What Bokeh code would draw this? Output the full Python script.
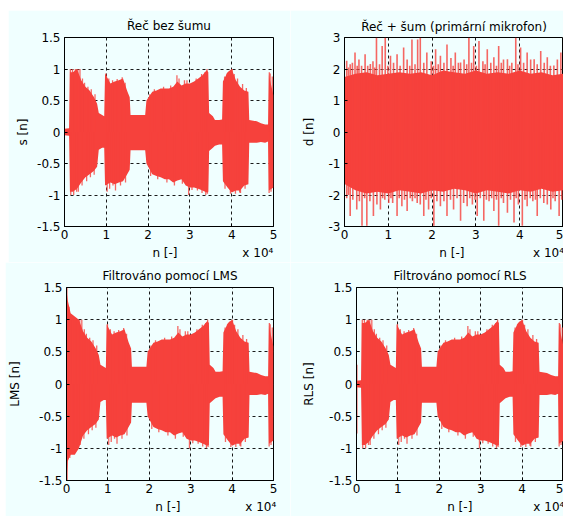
from bokeh.plotting import figure
from bokeh.models import Range1d, FixedTicker, Spacer
from bokeh.layouts import row, column
from bokeh.embed import file_html
from bokeh.resources import INLINE

# ---------------- data ----------------
x_ticks = [0, 10000, 20000, 30000, 40000, 50000]
x_tick_labels = ["0", "1", "2", "3", "4", "5"]

# clean speech s[n] : envelope points (sample index, upper, lower)
s_n = [0, 1100, 1300, 2000, 3000, 4000, 5000, 6000, 7000, 7800, 8200, 9000, 9500, 9700,
       11000, 12000, 13000, 14000, 15000, 15600, 15800, 19300, 19600, 21000, 22000, 23000,
       24000, 25000, 26000, 27000, 28000, 29000, 30000, 31000, 32000, 33000, 34000, 34400,
       34600, 35500, 36000, 37000, 37700, 37900, 39000, 40000, 41000, 42000, 43000, 44000,
       44200, 46000, 47000, 48000, 48700, 48900, 50000]
s_upper = [0.05, 0.06, 0.95, 0.95, 1.0, 0.82, 0.72, 0.66, 0.56, 0.45, 0.3, 0.27, 0.25, 0.93,
           0.77, 0.8, 0.82, 0.85, 0.65, 0.55, 0.27, 0.27, 0.5, 0.64, 0.66, 0.69,
           0.69, 0.69, 0.72, 0.8, 0.74, 0.77, 0.77, 0.8, 0.85, 0.9, 0.98, 0.95,
           0.3, 0.25, 0.19, 0.19, 0.2, 0.8, 0.95, 1.0, 0.82, 0.72, 0.66, 0.64,
           0.19, 0.17, 0.14, 0.12, 0.12, 0.9, 0.58]
s_lower = [-0.05, -0.06, -0.95, -0.95, -0.9, -0.8, -0.72, -0.67, -0.62, -0.55, -0.28, -0.25, -0.25, -0.85,
           -0.8, -0.83, -0.8, -0.78, -0.67, -0.6, -0.29, -0.29, -0.5, -0.67, -0.7, -0.72,
           -0.75, -0.75, -0.8, -0.77, -0.75, -0.85, -0.88, -0.88, -0.9, -0.93, -0.96, -0.95,
           -0.3, -0.25, -0.22, -0.2, -0.2, -0.78, -0.88, -0.96, -0.93, -0.93, -0.85, -0.83,
           -0.17, -0.17, -0.16, -0.17, -0.15, -0.93, -0.88]
s_spike_n = [1400, 1900, 2600, 3200, 3700, 4300, 4800, 5600, 6400, 7300, 9900, 10600, 11500,
             12600, 13800, 14500, 20400, 21500, 23700, 25400, 26900, 27400, 28700, 29300,
             31500, 32800, 33600, 34100, 38300, 38900, 39500, 40100, 40600, 41400, 42600,
             43500, 49000, 49200, 49700,
             1500, 2200, 2900, 3300, 4200, 5300, 6200, 7100, 10200, 10800, 11600, 12200,
             13400, 14600, 20600, 22300, 24500, 26300, 28200, 29700, 30500, 31800, 32900,
             33800, 34200, 38400, 39700, 40900, 41900, 42100, 43200, 48950, 49400]
s_spike_v = [1.0, 1.0, 1.0, 1.0, 1.0, 0.85, 0.78, 0.72, 0.68, 0.6, 0.93, 0.85, 0.82,
             0.84, 0.87, 0.78, 0.6, 0.68, 0.72, 0.74, 0.9, 0.85, 0.82, 0.82,
             0.85, 0.92, 0.95, 1.0, 0.88, 0.93, 0.97, 1.0, 0.92, 0.85, 0.76,
             0.7, 0.95, 0.93, 0.88,
             -1.0, -1.0, -0.95, -0.95, -0.85, -0.78, -0.72, -0.68, -0.95, -0.9, -0.85, -0.93,
             -0.85, -0.8, -0.7, -0.75, -0.8, -0.85, -0.82, -1.0, -0.92, -0.93, -0.97,
             -1.0, -0.98, -0.9, -0.98, -0.98, -0.96, -0.97, -0.9, -0.97, -0.95]

# speech + noise d[n]
d_n = [0, 2500, 5000, 7500, 10000, 12500, 15000, 17500, 20000, 22500, 25000,
       27500, 30000, 32500, 35000, 37500, 40000, 42500, 45000, 47500, 50000]
d_upper = [1.75, 1.85, 1.9, 1.8, 1.85, 1.9, 1.85, 1.9, 1.8, 1.95, 1.9,
           1.85, 1.95, 1.85, 1.9, 1.85, 1.95, 1.85, 1.9, 1.8, 1.85]
d_lower = [-1.65, -1.85, -1.95, -1.9, -1.95, -1.85, -1.9, -1.95, -1.85, -1.9, -1.8,
           -1.85, -1.95, -1.85, -1.9, -1.95, -1.85, -1.9, -1.8, -1.9, -1.85]
d_spike_n = [500, 900, 1300, 1800, 2400, 2900, 3300, 3900, 4700, 5300, 5900, 6500, 6900,
             7300, 8000, 8600, 9300, 9900, 10500, 11200, 12000, 12700, 13500, 14300, 14900,
             15400, 16100, 16700, 17300, 18100, 18800, 19800, 20300, 20800, 21400, 21900,
             22700, 23400, 24300, 24800, 25300, 26000, 26500, 27300, 27900, 28400, 29000,
             29500, 30100, 30700, 31600, 32100, 32600, 33400, 34100, 34700, 35200, 35800,
             36300, 37200, 37700, 38200, 39100, 39600, 40200, 40900, 41700, 42500, 43300,
             44000, 44800, 45600, 46300, 47000, 47800, 48600, 49400,
             500, 900, 1300, 1900, 2800, 3400, 4000, 4600, 5100, 5800, 6600, 7400, 8200,
             8700, 9200, 10100, 10600, 11000, 12000, 12500, 13100, 13700, 14300, 15000,
             15500, 16100, 16600, 17300, 18100, 18600, 19200, 19800, 20400, 21100, 21900,
             22700, 23400, 24200, 24900, 25700, 26500, 27200, 28000, 28600, 29200, 29800,
             30300, 31000, 31800, 32400, 33000, 33600, 34100, 34700, 35200, 35800, 36300,
             37200, 37900, 38700, 39200, 39700, 40600, 41200, 41700, 42400, 43000, 43600,
             44000, 44700, 45500, 46300, 47100, 47600, 48100, 49000, 49600]
d_spike_v = [2.26, 2.05, 2.15, 2.2, 2.52, 2.1, 2.3, 2.1, 2.47, 2.1, 2.16, 2.25, 2.05,
             2.99, 2.15, 2.73, 2.99, 2.1, 2.42, 2.2, 2.47, 2.1, 2.68, 2.3, 2.1,
             2.94, 2.15, 2.94, 2.99, 2.2, 2.52, 2.25, 2.1, 2.63, 2.15, 2.42,
             2.2, 2.78, 2.35, 2.1, 2.52, 2.2, 2.21, 2.3, 2.15, 2.99, 2.2,
             2.73, 2.1, 2.89, 2.25, 2.15, 2.63, 2.2, 2.37, 2.1, 2.73, 2.2,
             2.3, 2.31, 2.1, 2.2, 2.99, 2.15, 2.68, 2.2, 2.52, 2.3, 2.31,
             2.15, 2.57, 2.2, 2.37, 2.1, 2.11, 2.3, 2.52,
             -2.1, -2.0, -2.67, -2.15, -2.46, -2.2, -2.98, -2.1, -2.98, -2.2, -2.67, -2.3, -2.46,
             -2.1, -2.15, -2.25, -2.1, -2.25, -2.67, -2.1, -2.36, -2.15, -2.51, -2.1,
             -2.2, -2.1, -2.25, -2.3, -2.67, -2.15, -2.46, -2.1, -2.98, -2.2, -2.36,
             -2.2, -2.67, -2.15, -2.46, -2.1, -2.82, -2.25, -2.36, -2.1, -2.3, -2.15,
             -2.67, -2.1, -2.82, -2.15, -2.2, -2.1, -2.51, -2.15, -2.98, -2.1, -2.25,
             -2.56, -2.15, -2.87, -2.1, -2.3, -2.98, -2.15, -2.36, -2.1, -2.2, -2.15,
             -2.67, -2.1, -2.25, -2.3, -2.46, -2.1, -2.2, -2.67, -2.15]

# LMS output: initial adaptation transient, then follows the speech
lms_n = [0, 300, 1000, 2000, 3000] + s_n[5:]
lms_upper = [1.45, 1.3, 1.1, 1.05, 1.0] + s_upper[5:]
lms_lower = [-1.5, -1.2, -1.1, -1.1, -1.0] + s_lower[5:]
lms_spike_n = [100, 150, 600, 800] + s_spike_n
lms_spike_v = [1.5, -1.5, 1.2, -1.15] + s_spike_v

# RLS output: short spike at the start, then follows the speech
rls_n = s_n
rls_upper = s_upper
rls_lower = s_lower
rls_spike_n = [100, 100] + s_spike_n
rls_spike_v = [0.3, -0.77] + s_spike_v

# ---------------- styling ----------------
BG = "#f0ffff"
RED = "#f6413c"
FONT = "DejaVu Sans"
FS = "12px"
NB = "\u00a0"


def make_fig(w, h, bl, br, bt, bb, yr, yticks, ytick_labels, title, ylabel, xlabel,
             ylabel_standoff, title_standoff):
    p = figure(width=w, height=h, min_border_left=bl, min_border_right=br,
               min_border_top=bt, min_border_bottom=bb,
               x_range=Range1d(0, 50000), y_range=Range1d(yr[0], yr[1]),
               output_backend="svg", toolbar_location=None, title=title)
    p.background_fill_color = BG
    p.border_fill_color = BG
    p.outline_line_color = "black"
    p.outline_line_width = 1
    p.title.align = "center"
    p.title.text_font = FONT
    p.title.text_font_size = FS
    p.title.text_font_style = "normal"
    p.title.text_color = "black"
    p.title.standoff = title_standoff
    p.xaxis.ticker = FixedTicker(ticks=x_ticks)
    p.xaxis.major_label_overrides = dict(zip(x_ticks, x_tick_labels))
    p.yaxis.ticker = FixedTicker(ticks=yticks)
    p.yaxis.major_label_overrides = dict(zip(yticks, ytick_labels))
    for ax in (p.xaxis[0], p.yaxis[0]):
        ax.major_label_text_font = FONT
        ax.major_label_text_font_size = FS
        ax.major_label_text_color = "black"
        ax.axis_label_text_font = FONT
        ax.axis_label_text_font_size = FS
        ax.axis_label_text_font_style = "normal"
        ax.axis_label_text_color = "black"
        ax.axis_line_color = "black"
        ax.major_tick_in = 3
        ax.major_tick_out = 0
        ax.minor_tick_line_color = None
        ax.major_tick_line_color = "black"
    p.xaxis.axis_label = xlabel
    p.xaxis.major_label_standoff = 3
    p.xaxis.axis_label_standoff = 4
    p.yaxis.axis_label = ylabel
    p.yaxis.major_label_standoff = 4
    p.yaxis.axis_label_standoff = ylabel_standoff
    p.grid.grid_line_color = "#1a1a1a"
    p.grid.grid_line_dash = "3 3"
    p.grid.grid_line_width = 1
    return p


def draw(p, n, up, lo, spk_n, spk_v, lw=1.3):
    p.varea(x=n, y1=lo, y2=up, fill_color=RED, fill_alpha=1.0)
    p.segment(x0=spk_n, y0=[0] * len(spk_n), x1=spk_n, y1=spk_v,
              line_color=RED, line_width=lw, line_alpha=0.8)


y15 = [-1.5, -1, -0.5, 0, 0.5, 1, 1.5]
y15l = ["-1.5", "-1", "-0.5", "0", "0.5", "1", "1.5"]
y3 = [-3, -2, -1, 0, 1, 2, 3]
y3l = ["-3", "-2", "-1", "0", "1", "2", "3"]
EXP = "x 10\u2074"

p1 = make_fig(282, 252, 56, 17, 27, 34, (-1.5, 1.5), y15, y15l, "Řeč bez šumu", "s [n]",
              NB * 23 + "n [-]" + NB * 17 + EXP, 4, 9)
draw(p1, s_n, s_upper, s_lower, s_spike_n, s_spike_v)

p2 = make_fig(273, 252, 54, 0, 24, 34, (-3, 3), y3, y3l,
              "Řeč + šum (primární mikrofon)", "d [n]",
              NB * 25 + "n [-]" + NB * 18 + EXP, 10, 8)
draw(p2, d_n, d_upper, d_lower, d_spike_n, d_spike_v, lw=1.6)

p3 = make_fig(285, 254, 59, 17, 25, 36, (-1.5, 1.5), y15, y15l,
              "Filtrováno pomocí LMS", "LMS [n]",
              NB * 24 + "n [-]" + NB * 17 + EXP, 14, 9)
draw(p3, lms_n, lms_upper, lms_lower, lms_spike_n, lms_spike_v)

p4 = make_fig(273, 254, 66, 0, 25, 36, (-1.5, 1.5), y15, y15l,
              "Filtrováno pomocí RLS", "RLS [n]",
              NB * 24 + "n [-]" + NB * 16 + EXP, 10, 9)
draw(p4, rls_n, rls_upper, rls_lower, rls_spike_n, rls_spike_v)

p1.margin = (0, 0, 0, 8)
p3.margin = (0, 0, 0, 5)

layout = column(Spacer(width=563, height=10),
                row(p1, p2),
                row(p3, p4))

open("out.html", "w").write(file_html(layout, INLINE))
